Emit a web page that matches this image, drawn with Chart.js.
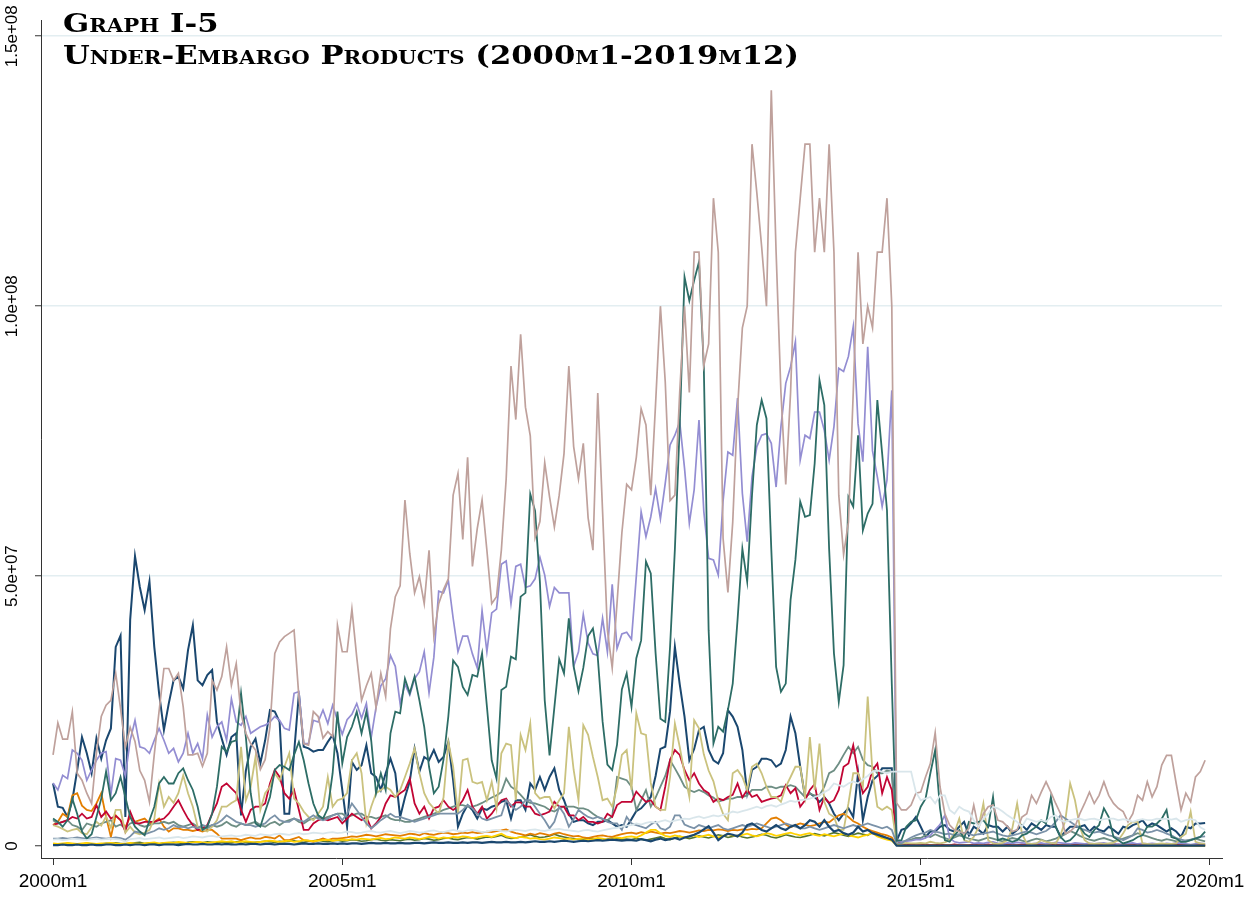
<!DOCTYPE html>
<html>
<head>
<meta charset="utf-8">
<script src="https://cdn.jsdelivr.net/npm/chart.js@4.4.0/dist/chart.umd.min.js"></script>
<style>
  html, body { margin: 0; padding: 0; background: #fff; }
  #wrap { position: relative; width: 1254px; height: 921px; }
  #title {
    position: absolute; left: 63px; top: 7px;
    font-family: "DejaVu Serif", serif; font-weight: bold; font-variant: small-caps;
    font-size: 26px; line-height: 32px; color: #000; white-space: nowrap;
    transform: scaleX(1.18); transform-origin: 0 0;
  }
</style>
</head>
<body>
<div id="wrap">
  <canvas id="chart" width="1254" height="921"></canvas>
  <div id="title">Graph I-5<br>Under-Embargo Products (2000m1-2019m12)</div>
</div>
<script>
// monthly values, millions, 2000m1 .. 2019m12 (one row per year)
const erose = [
  16.9,22.8,19.8,19.8,24.9,13.5,12.2,9.8,7.9,17.2,24.0,26.1,
  27.0,32.0,25.5,18.3,22.0,19.4,14.0,12.2,8.2,17.0,25.0,32.9,
  32.9,30.7,32.0,25.8,16.9,16.9,17.2,14.8,17.2,30.7,28.9,31.4,
  36.9,29.8,33.8,24.5,20.9,19.0,17.8,14.2,16.0,22.1,35.7,37.8,
  38.8,39.4,40.0,27.6,19.0,18.7,24.9,24.0,20.0,21.2,20.3,40.9,
  36.0,36.0,43.9,35.0,27.0,29.7,32.0,25.7,32.0,27.7,40.3,46.2,
  48.2,64.1,54.2,46.9,49.9,44.9,54.8,38.9,44.9,47.5,49.5,65.0,
  69.0,56.8,72.0,51.8,58.8,64.1,54.8,44.9,46.2,54.8,68.0,88.9,
  79.0,94.8,81.3,76.0,57.1,60.1,71.0,64.7,59.1,65.0,72.7,88.9,
  74.0,68.0,74.6,60.8,54.8,83.9,62.0,40.0,33.0,45.0,58.0,67.0,
  66.0,72.0,81.0,78.0,65.0,82.0,100,86.0,64.0,65.0,84.0,100,
  84.0,110,110,89.0,93.0,120,110,57.0,47.0,60.0,81.0,96.0,
  100,130,121,111,100,140,110,84.0,67.0,84.0,110,120,
  130,130,110,120,110,130,110,65.0,54.0,60.0,84.0,110,
  93.0,100,96.0,110,110,120,100,8.0,6.7,6.7,7.6,9.8,
  10.0,12.8,15.3,21.0,11.0,6.0,3.9,3.0,2.7,2.3,3.3,7.6,
  3.3,6.0,7.3,7.6,4.8,4.5,3.6,2.7,3.0,5.4,6.0,9.4,
  7.9,10.0,11.9,10.0,7.9,6.0,2.3,2.7,3.6,6.0,7.9,10.0,
  7.9,9.4,11.9,9.4,7.9,7.0,6.4,4.5,6.0,9.4,8.5,11.9,
  9.1,11.0,15.0,16.8,16.8,11.6,6.7,9.8,8.2,12.8,13.8,15.9
];
const lavender = [
  11.7,10.4,13.1,12.5,17.8,17.2,15.9,12.2,14.1,15.9,17.2,17.5,
  9.6,16.2,15.9,13.0,19.6,23.3,18.4,18.1,17.2,19.6,21.8,19.6,
  17.2,18.1,15.6,17.2,20.9,17.2,19.0,16.2,24.3,20.2,22.1,23.0,
  19.6,27.3,23.0,22.4,24.0,20.9,21.5,22.1,22.4,23.0,24.0,23.3,
  21.8,21.5,28.3,28.6,19.0,19.0,23.3,23.0,25.2,22.7,26.1,23.3,
  20.7,23.4,24.4,26.4,23.7,26.4,20.1,25.7,29.7,31.0,35.3,33.3,
  26.4,30.0,28.0,31.0,32.3,36.0,28.4,35.0,47.2,46.9,49.2,42.2,
  36.0,38.9,38.9,35.6,33.0,43.6,36.0,43.2,43.9,52.2,52.8,44.9,
  51.8,52.2,47.9,48.2,49.5,53.5,50.2,44.4,47.9,46.9,46.9,46.9,
  33.3,36.0,42.9,37.6,35.6,35.3,42.2,36.0,48.5,36.6,39.3,39.6,
  38.3,50.0,61.9,57.3,61.0,66.2,60.6,67.2,74.3,76.1,78.6,70.0,
  59.8,66.0,78.9,62.0,53.3,53.0,50.2,64.0,73.0,72.4,83.0,65.3,
  56.4,68.4,74.0,76.1,76.4,74.6,66.5,77.7,85.7,88.8,93.4,71.5,
  76.1,75.5,80.4,80.4,77.0,71.5,77.7,88.5,87.9,90.7,96.2,78.2,
  71.2,92.5,73.2,68.4,62.9,67.8,84.4,1.0,0.8,0.9,1.0,1.2,
  1.2,1.5,2.0,3.0,4.0,5.7,1.5,0.8,0.6,0.7,0.8,0.5,
  0.6,0.5,0.7,0.8,0.5,0.4,0.6,0.5,0.7,0.6,0.5,0.4,
  0.5,0.6,0.4,0.5,0.7,0.6,0.5,0.4,0.6,0.5,0.4,0.5,
  0.4,0.5,0.6,0.4,0.5,0.3,0.4,0.5,0.6,0.4,0.5,0.4,
  0.5,0.4,0.3,0.5,0.4,0.6,0.5,0.4,0.3,0.4,0.5,0.4
];
const emerald = [
  5.1,4.5,3.6,4.8,8.8,6.0,2.7,1.4,2.2,5.4,8.8,13.8,
  8.5,9.8,12.8,9.1,5.4,3.6,2.7,2.0,4.8,7.3,11.6,12.8,
  11.6,11.6,13.5,14.4,12.2,10.4,7.3,3.0,3.6,6.0,11.0,18.4,
  17.5,19.3,19.6,28.3,20.2,9.8,4.2,3.6,6.4,9.1,14.1,15.0,
  14.7,14.1,16.9,19.3,15.9,11.6,7.9,5.7,5.1,7.0,13.5,24.9,
  15.3,20.2,22.1,24.9,20.9,24.9,19.6,9.8,13.5,10.4,20.9,24.9,
  24.6,31.0,28.3,31.4,27.0,22.1,14.7,9.8,11.0,16.0,24.0,34.4,
  33.2,29.5,28.0,31.7,31.4,35.7,25.9,15.9,12.5,28.9,29.5,35.1,
  34.6,46.2,46.9,65.2,62.1,48.9,27.0,16.8,25.7,34.6,32.0,42.2,
  33.3,28.7,33.0,38.9,40.3,35.0,23.1,15.1,14.1,18.8,29.0,32.0,
  25.8,34.8,38.1,52.7,50.5,35.7,23.6,23.0,36.9,55.0,77.7,105.4,
  101,104.8,108.2,88.8,40.0,19.0,22.1,21.2,25.2,30.1,41.9,55.1,
  49.0,65.0,78.0,82.6,79.2,55.0,33.2,28.6,30.1,45.6,53.0,63.8,
  61.0,61.3,70.9,86.3,81.7,55.0,35.7,26.7,33.5,64.7,62.9,76.1,
  58.5,61.6,63.4,82.6,72.7,62.2,30.0,1.0,1.1,3.6,4.5,4.8,
  7.3,8.8,13.5,17.8,7.0,1.1,0.8,2.0,3.0,1.4,4.5,4.2,
  4.5,4.8,3.6,9.1,1.1,1.4,1.1,0.8,1.1,2.0,2.3,3.0,
  3.6,4.8,4.2,9.1,3.6,1.7,0.8,1.1,2.0,3.6,2.3,1.7,
  3.0,3.9,7.0,5.4,1.7,1.1,0.5,0.8,1.1,1.7,2.0,3.6,
  3.6,4.2,5.1,6.7,1.7,1.4,0.8,0.8,1.1,1.4,1.7,2.7
];
const navy = [
  11.6,7.3,7.1,5.4,8.5,14.0,20.2,17.2,13.5,20.0,16.2,19.6,
  21.8,36.9,39.0,5.4,41.9,53.7,48.0,43.7,49.0,36.9,28.3,21.5,
  26.4,30.7,31.4,29.2,36.3,40.9,30.7,29.8,31.7,32.6,23.0,19.9,
  16.9,20.2,20.9,5.7,14.0,18.4,19.9,15.3,19.6,25.2,24.9,23.0,
  6.0,6.0,17.2,28.3,18.4,18.1,17.5,17.8,17.8,19.3,20.6,17.2,
  10.4,3.6,15.6,14.1,15.0,18.7,13.5,12.8,10.4,13.5,16.2,13.5,
  5.4,9.0,12.0,18.1,13.8,16.5,15.9,17.8,15.6,16.5,19.3,12.2,
  3.6,6.0,7.6,6.7,5.1,7.0,6.7,7.3,7.6,8.2,8.5,5.1,
  8.5,8.5,6.7,11.6,10.4,12.8,10.4,12.8,14.4,10.4,8.5,6.0,
  4.5,4.8,4.8,4.2,3.9,4.5,4.5,4.8,4.2,3.6,3.9,3.6,
  5.0,6.5,7.0,8.0,9.1,13.0,18.0,18.4,25.0,36.9,30.0,24.0,
  15.9,18.0,21.5,22.1,17.8,15.9,15.3,17.2,25.2,24.0,22.1,17.8,
  9.8,14.1,14.7,16.2,16.2,15.9,14.7,15.3,17.8,24.0,20.9,14.7,
  9.1,9.8,9.1,8.2,9.1,7.9,6.0,4.8,6.0,7.0,5.4,13.5,
  4.8,9.1,12.2,13.0,14.4,14.4,14.4,1.0,3.0,3.3,4.2,5.4,
  3.6,1.7,2.7,2.7,3.6,3.9,3.0,2.7,3.6,4.5,2.0,3.6,
  3.0,2.3,3.9,3.6,3.6,2.7,3.6,2.3,3.0,3.9,3.0,4.2,
  3.6,3.0,3.9,3.6,3.6,1.7,2.7,3.6,3.6,3.6,3.9,2.7,
  3.6,3.0,2.7,3.6,3.0,2.3,3.6,3.3,3.9,4.2,4.8,3.6,
  4.2,3.9,3.3,2.7,3.3,2.7,1.7,3.6,3.3,4.2,4.2,4.3
];
const khaki = [
  3.9,3.6,3.2,2.7,3.0,3.2,2.4,2.2,3.5,4.5,3.8,5.5,
  3.4,6.7,6.7,2.5,3.6,2.5,2.2,2.5,3.0,5.0,11.6,7.3,
  9.1,8.0,9.8,13.1,9.8,7.3,3.6,3.0,2.7,3.6,4.8,7.3,
  7.3,8.0,8.5,18.4,8.5,11.0,16.5,6.7,9.8,11.0,13.5,12.2,
  14.7,17.2,8.8,7.9,6.4,5.4,4.8,6.0,7.3,12.8,7.3,8.5,
  8.8,9.8,15.9,17.2,13.5,4.2,7.3,9.8,10.4,11.0,10.4,9.1,
  10.4,12.8,15.3,18.1,13.5,9.8,8.0,7.0,6.0,9.0,19.3,14.7,
  6.0,15.9,16.2,11.9,11.6,11.9,8.5,11.9,7.0,17.2,19.0,18.7,
  8.5,20.6,17.8,22.7,9.8,8.8,9.1,9.1,7.0,8.5,9.8,22.1,
  14.1,8.5,22.4,20.6,16.5,12.8,8.5,8.8,7.3,11.0,16.9,17.8,
  10.4,24.6,20.9,20.6,11.7,7.3,6.7,6.7,12.8,22.7,18.4,13.5,
  9.1,23.3,21.8,17.0,14.0,12.0,8.4,6.0,4.8,13.5,14.1,12.8,
  10.4,14.7,15.3,13.5,11.0,9.1,9.1,8.2,11.0,12.8,14.7,14.7,
  9.1,20.2,10.4,19.0,8.2,6.0,5.4,3.0,3.0,7.9,13.5,13.5,
  11.0,27.7,13.5,7.3,6.7,7.3,6.7,0.5,0.4,0.6,0.5,0.5,
  0.6,0.5,0.8,0.6,0.5,0.7,1.1,2.5,5.1,1.1,0.8,1.7,
  3.5,7.9,1.1,0.5,0.4,0.6,1.1,3.3,7.9,2.3,0.5,0.4,
  0.5,1.1,0.8,0.6,0.5,2.0,4.8,11.6,8.5,3.6,1.1,0.5,
  0.4,0.5,0.4,0.5,0.6,1.1,2.4,3.9,4.5,4.5,0.5,0.4,
  0.3,0.4,0.5,0.4,0.4,0.5,1.7,2.3,6.4,0.8,0.5,0.4
];
const cranberry = [
  3.9,4.2,4.5,4.8,5.4,5.1,6.0,5.1,5.4,7.6,5.4,6.4,
  5.1,5.6,4.8,2.7,6.4,4.2,4.2,4.5,4.5,4.5,4.8,5.1,
  6.0,7.3,8.5,6.7,5.1,3.9,3.0,3.3,3.9,6.0,7.9,11.0,
  11.6,10.7,9.8,6.7,4.5,6.7,7.3,7.3,7.9,11.6,14.1,12.8,
  9.8,8.8,10.4,6.7,3.0,3.0,4.2,4.8,5.1,4.8,5.1,5.4,
  4.2,5.1,6.0,5.4,4.8,5.4,3.3,4.2,5.4,7.9,9.4,9.1,
  9.8,10.4,12.5,7.9,6.0,7.3,5.1,7.0,7.3,8.5,7.3,6.7,
  7.3,8.5,10.4,7.3,6.0,7.3,5.1,6.0,7.3,8.5,8.8,7.3,
  8.1,8.1,7.3,7.3,6.0,5.7,6.0,6.4,8.2,7.3,7.3,5.7,
  5.7,4.8,5.4,4.5,4.5,4.2,4.5,6.0,5.4,7.6,8.2,8.2,
  8.2,10.1,9.1,8.2,8.5,7.3,6.7,11.0,16.0,17.8,16.9,14.1,
  12.2,13.5,11.6,10.4,9.8,8.2,8.8,8.5,9.1,9.5,11.6,9.0,
  10.4,9.1,9.5,8.2,8.5,8.8,9.0,9.4,11.3,9.8,10.7,7.3,
  8.5,10.4,11.5,6.7,9.0,8.0,8.5,10.4,14.7,15.3,18.7,13.5,
  9.8,11.0,14.1,15.3,9.8,12.8,10.4,1.1,0.3,0.2,0.3,0.2,
  0.2,0.3,0.2,0.2,0.3,0.2,0.2,0.3,0.2,0.2,0.2,0.3,
  0.2,0.2,0.3,0.2,0.2,0.2,0.3,0.2,0.2,0.3,0.2,0.2,
  0.3,0.2,0.2,0.2,0.3,0.2,0.2,0.2,0.3,0.2,0.2,0.2,
  0.2,0.3,0.2,0.2,0.2,0.3,0.2,0.2,0.2,0.3,0.2,0.2,
  0.2,0.2,0.3,0.2,0.2,0.2,0.3,0.2,0.2,0.2,0.3,0.2
];
const teal = [
  4.8,4.2,4.5,4.8,3.9,3.6,3.0,4.2,3.9,3.6,4.2,4.5,
  4.8,3.6,4.0,3.3,4.2,4.5,3.9,3.6,3.9,4.2,4.2,4.5,
  4.2,4.5,3.9,3.6,3.9,4.2,3.6,3.3,3.3,3.9,3.6,3.9,
  4.5,3.9,3.6,4.2,3.9,4.2,4.5,3.9,3.6,4.2,4.5,3.9,
  4.5,4.8,5.1,4.5,4.2,4.8,5.1,5.4,5.1,5.4,5.7,6.0,
  6.0,5.4,5.7,6.0,6.0,5.4,5.4,5.1,5.4,5.7,5.1,4.8,
  4.8,4.5,4.5,4.8,5.1,5.4,5.7,6.0,6.3,6.7,7.0,7.3,
  7.6,7.6,7.3,7.3,7.6,8.0,8.5,9.0,9.4,10.0,12.5,11.0,
  10.4,9.5,8.5,8.0,7.9,7.6,7.3,6.7,6.4,7.0,7.3,7.3,
  7.3,7.0,7.0,6.7,6.0,5.4,5.0,4.8,5.5,12.8,12.5,12.2,
  11.0,6.7,8.5,10.4,7.3,9.0,11.0,13.0,15.9,14.4,12.8,11.0,
  10.4,10.0,10.4,10.0,9.4,9.0,8.2,8.5,8.8,8.8,9.1,9.1,
  9.4,10.4,10.4,10.4,11.0,11.0,10.7,11.0,11.0,11.3,11.0,10.0,
  9.1,9.7,9.4,9.4,11.0,13.5,14.0,15.3,16.9,18.4,17.2,18.4,
  16.0,15.0,14.7,13.5,13.5,14.0,13.8,1.0,0.8,1.0,1.2,1.5,
  1.5,2.0,1.7,2.2,1.8,1.5,1.2,1.6,2.0,1.7,1.4,1.2,
  1.0,1.3,1.6,1.4,1.1,0.9,1.2,1.5,1.3,1.0,0.8,1.1,
  1.4,1.2,0.9,1.1,1.4,1.8,2.2,2.8,2.4,1.9,1.5,1.2,
  1.0,1.3,1.5,1.2,0.9,1.1,1.4,1.7,2.0,2.4,2.1,1.8,
  1.5,1.2,1.0,1.3,1.1,0.9,0.8,1.0,1.2,1.4,1.1,0.9
];
const emidblue = [
  1.4,1.4,1.5,1.4,1.5,1.6,1.5,1.4,1.5,1.6,1.5,1.4,
  1.5,1.6,1.5,1.2,1.8,2.7,2.5,2.2,2.5,2.8,3.3,3.0,
  3.3,3.9,3.5,3.6,3.3,3.6,3.3,3.9,3.6,3.9,4.2,4.8,
  5.7,5.1,4.5,4.2,3.9,3.9,3.6,3.9,4.2,5.1,5.7,4.8,
  4.5,4.5,5.1,4.8,4.5,5.1,5.7,5.1,4.8,5.1,5.7,6.0,
  4.8,6.0,7.9,6.7,5.4,4.2,3.3,4.0,4.8,5.4,6.0,5.4,
  5.4,5.1,4.8,4.5,4.8,5.1,5.4,5.7,6.0,6.0,6.0,6.0,
  6.0,6.7,7.6,7.0,6.0,5.1,4.8,5.1,5.4,5.7,8.5,7.6,
  6.7,7.3,8.5,8.5,7.3,6.0,4.8,3.3,4.5,7.3,6.0,3.6,
  5.0,6.7,6.0,5.4,5.1,5.4,5.1,4.5,4.2,4.2,3.0,5.4,
  4.2,3.9,3.6,3.3,4.0,4.5,3.3,3.0,3.6,5.7,5.7,4.0,
  3.6,3.3,3.9,3.6,3.3,3.6,3.9,3.3,3.0,3.3,3.6,3.9,
  3.6,3.9,4.2,3.9,3.6,3.3,3.6,3.9,4.2,3.9,3.6,3.3,
  3.3,3.6,3.3,3.0,3.3,3.6,3.9,3.6,3.3,3.6,3.9,3.6,
  3.9,4.2,3.9,3.6,3.3,3.6,3.0,0.5,0.5,1.1,1.6,2.0,
  2.3,2.5,3.0,2.7,2.5,2.2,2.3,2.0,2.2,2.5,2.2,2.0,
  2.2,2.3,2.5,2.7,2.3,2.0,1.8,2.0,2.2,2.5,2.7,2.5,
  2.2,2.5,2.8,3.5,4.5,5.7,5.1,4.5,3.9,3.3,3.0,2.7,
  2.5,2.7,2.3,2.0,1.8,1.5,1.1,1.5,2.0,3.3,3.0,2.5,
  2.7,3.0,2.7,2.3,2.0,1.5,1.2,1.0,1.1,1.5,1.7,1.8
];
const bluishgray = [
  1.2,1.3,1.1,1.2,1.4,1.3,1.2,1.1,1.3,1.4,1.2,1.3,
  1.4,1.3,1.2,0.8,1.3,1.4,1.5,1.3,1.4,1.5,1.6,1.4,
  1.5,1.6,1.7,1.5,1.6,1.8,1.7,1.6,1.8,1.9,1.7,1.8,
  1.9,2.0,1.8,1.9,2.1,2.0,1.9,2.2,2.1,2.0,2.2,2.3,
  2.2,2.1,2.3,2.4,2.2,2.3,2.5,2.4,2.3,2.5,2.6,2.4,
  2.5,2.7,2.6,2.4,2.5,2.7,2.8,2.6,2.5,2.7,2.8,2.6,
  2.4,2.6,2.8,2.7,2.5,2.6,2.8,2.9,2.7,2.6,2.8,3.0,
  2.8,2.7,2.9,3.0,2.8,2.6,2.7,2.9,3.0,2.8,2.7,2.9,
  3.0,2.9,2.8,3.0,3.1,2.9,2.8,3.0,3.1,3.2,3.0,2.9,
  2.8,2.7,2.9,3.0,2.8,2.7,2.9,3.1,3.3,3.4,3.6,3.8,
  3.9,4.2,4.0,4.3,4.5,4.3,4.6,4.8,4.5,4.7,4.9,5.1,
  5.0,5.3,5.5,5.2,5.4,5.7,5.5,5.8,6.0,6.4,6.2,6.5,
  6.7,7.0,7.3,7.0,7.4,7.6,7.3,7.7,8.0,8.4,8.2,8.5,
  8.6,8.8,9.1,9.4,10.0,10.5,11.6,11.3,11.0,11.6,12.0,11.6,
  12.4,13.0,13.8,14.0,13.8,13.5,13.8,13.8,13.8,13.8,13.8,10.0,
  8.5,8.8,9.1,7.9,9.4,9.4,6.7,6.0,7.3,6.7,6.4,4.8,
  3.6,5.1,6.0,7.3,7.0,6.4,5.7,5.1,4.5,3.6,5.1,4.8,
  4.5,4.8,4.5,5.4,5.7,4.8,4.5,4.8,5.0,5.1,4.8,5.0,
  5.1,4.8,5.0,5.1,5.1,4.8,5.0,4.8,4.5,4.8,5.0,4.8,
  4.8,5.1,5.0,5.1,4.9,5.1,4.5,4.8,5.0,4.8,3.5,3.0
];
const dkorange = [
  3.9,4.5,6.0,5.4,9.4,9.8,7.5,6.7,6.5,7.9,9.8,5.4,
  1.7,5.7,4.8,3.5,5.4,4.5,4.8,5.1,4.2,4.5,5.1,3.6,
  2.7,3.3,3.3,3.0,3.0,2.8,3.0,2.7,3.0,3.0,2.3,1.4,
  1.4,1.4,1.4,1.1,1.4,1.6,1.4,1.4,1.7,1.6,1.4,2.0,
  1.1,1.1,1.4,1.7,1.1,1.0,0.8,1.1,1.4,1.1,1.4,1.4,
  1.5,1.6,1.8,1.7,1.9,2.1,2.0,1.8,2.0,2.2,2.1,2.0,
  1.9,2.1,2.3,2.2,2.0,2.4,2.2,2.1,2.3,2.5,2.4,2.2,
  2.3,2.5,2.4,2.6,2.4,2.5,2.7,2.6,2.8,2.9,3.1,2.7,
  2.4,2.2,2.0,2.3,2.1,2.4,2.2,2.0,2.3,2.5,2.2,2.0,
  1.8,1.9,1.6,1.5,1.7,1.9,2.0,1.8,1.7,2.0,2.2,2.4,
  2.5,2.3,2.6,2.4,2.7,2.5,2.3,2.5,2.4,2.6,2.8,2.7,
  2.5,2.7,2.9,2.8,3.0,2.9,3.1,3.0,2.8,3.0,2.9,3.1,
  3.0,3.2,3.1,3.3,4.2,5.1,5.3,4.8,4.0,3.5,3.9,4.2,
  4.0,3.7,3.9,4.2,4.5,4.4,5.1,5.7,6.0,5.4,4.6,4.2,
  3.6,3.1,2.8,2.5,2.2,2.0,1.6,0.2,0.1,0.1,0.2,0.1,
  0.1,0.1,0.2,0.1,0.1,0.1,0.1,0.2,0.1,0.1,0.1,0.1,
  0.1,0.2,0.1,0.1,0.1,0.1,0.2,0.1,0.1,0.1,0.1,0.1,
  0.1,0.1,0.1,0.2,0.1,0.1,0.1,0.1,0.1,0.2,0.1,0.1,
  0.1,0.1,0.1,0.1,0.2,0.1,0.1,0.1,0.1,0.1,0.1,0.2,
  0.1,0.1,0.2,0.1,0.1,0.1,0.1,0.1,0.2,0.1,0.1,0.1
];
const gold = [
  0.5,0.4,0.5,0.6,0.5,0.4,0.5,0.6,0.5,0.4,0.5,0.5,
  0.6,0.5,0.4,0.5,0.6,0.5,0.4,0.5,0.6,0.7,0.5,0.6,
  0.7,0.6,0.8,0.7,0.6,0.7,0.8,0.7,0.6,0.7,0.8,0.9,
  0.8,0.9,0.7,0.8,0.9,0.8,0.7,0.8,0.9,1.0,0.9,0.8,
  0.9,1.0,0.8,0.9,1.1,1.0,0.9,1.0,1.1,1.2,1.0,1.1,
  1.2,1.1,1.3,1.2,1.4,1.3,1.2,1.4,1.5,1.3,1.4,1.6,
  1.5,1.4,1.6,1.5,1.3,1.5,1.7,1.6,1.4,1.6,1.5,1.7,
  1.6,1.8,1.7,1.5,1.6,1.8,1.9,1.7,2.0,2.3,1.8,1.6,
  1.5,1.7,1.6,1.4,1.5,1.3,1.2,1.4,1.6,1.5,1.3,1.4,
  1.2,1.4,1.3,1.1,1.3,1.5,1.4,1.2,1.4,1.6,1.5,1.7,
  1.8,1.6,2.0,2.5,3.0,3.0,2.4,1.9,1.7,2.0,1.8,1.6,
  1.8,2.0,1.7,1.9,2.1,1.8,1.6,1.9,2.2,2.0,1.8,2.1,
  2.3,2.0,1.8,2.1,2.4,2.2,1.9,2.1,2.3,2.5,2.2,2.0,
  2.2,2.4,2.1,1.9,2.2,2.0,1.8,2.1,2.3,2.0,1.8,1.6,
  1.9,2.1,2.4,1.8,1.5,1.2,1.0,0.2,0.1,0.1,0.1,0.1,
  0.1,0.1,0.1,0.1,0.1,0.1,0.1,0.1,0.1,0.1,0.1,0.1,
  0.1,0.1,0.1,0.1,0.1,0.1,0.1,0.1,0.1,0.1,0.1,0.1,
  0.1,0.1,0.1,0.1,0.1,0.1,0.1,0.1,0.1,0.1,0.1,0.1,
  0.1,0.1,0.1,0.1,0.1,0.1,0.1,0.1,0.1,0.1,0.1,0.1,
  0.1,0.1,0.1,0.1,0.1,0.1,0.1,0.1,0.1,0.1,0.1,0.1
];
const forestGreen = [
  0.3,0.4,0.3,0.5,0.4,0.3,0.4,0.5,0.4,0.3,0.4,0.5,
  0.5,0.6,0.5,0.4,0.5,0.6,0.7,0.5,0.6,0.5,0.4,0.6,
  0.6,0.7,0.6,0.5,0.7,0.8,0.7,0.6,0.8,0.7,0.6,0.7,
  0.7,0.6,0.8,0.9,0.7,0.6,0.7,0.8,0.9,0.8,0.7,0.9,
  0.8,0.9,1.0,0.8,0.7,0.9,1.0,1.1,0.9,0.8,1.0,1.1,
  0.9,1.0,1.2,1.1,0.9,1.0,1.2,1.3,1.1,1.0,1.2,1.1,
  1.0,1.2,1.3,1.1,1.2,1.4,1.3,1.1,1.2,1.4,1.5,1.3,
  1.2,1.4,1.6,1.5,1.3,1.5,1.7,1.6,1.8,2.0,1.6,1.4,
  1.5,1.7,1.9,2.1,1.8,1.6,1.7,1.9,2.2,1.9,1.7,1.5,
  1.4,1.2,1.3,1.5,1.4,1.2,1.1,1.3,1.5,1.4,1.2,1.3,
  1.2,1.4,1.3,1.1,1.3,1.5,1.7,1.4,1.2,1.5,1.8,1.6,
  1.4,1.6,1.9,1.7,1.5,1.8,2.1,1.9,1.6,1.8,2.0,1.7,
  1.5,1.7,1.9,2.2,2.0,1.7,1.5,1.8,2.1,1.9,1.7,1.6,
  1.8,2.0,2.3,2.1,1.9,2.2,2.5,2.3,2.0,1.8,2.1,2.4,
  2.2,2.0,2.6,2.3,1.9,1.5,1.2,0.2,0.1,0.1,0.1,0.1,
  0.1,0.1,0.1,0.1,0.1,0.1,0.1,0.1,0.1,0.1,0.1,0.1,
  0.1,0.1,0.1,0.1,0.1,0.1,0.1,0.1,0.1,0.1,0.1,0.1,
  0.1,0.1,0.1,0.1,0.1,0.1,0.1,0.1,0.1,0.1,0.1,0.1,
  0.1,0.1,0.1,0.1,0.1,0.1,0.1,0.1,0.1,0.1,0.1,0.1,
  0.1,0.1,0.1,0.1,0.1,0.1,0.1,0.1,0.1,0.1,0.1,0.1
];
const navy2 = [
  0.2,0.2,0.3,0.2,0.2,0.3,0.2,0.2,0.3,0.2,0.2,0.3,
  0.3,0.2,0.2,0.3,0.2,0.3,0.3,0.2,0.3,0.3,0.2,0.3,
  0.3,0.3,0.2,0.3,0.4,0.3,0.3,0.4,0.3,0.3,0.4,0.3,
  0.4,0.3,0.3,0.4,0.3,0.4,0.4,0.3,0.4,0.4,0.3,0.4,
  0.4,0.4,0.3,0.4,0.5,0.4,0.4,0.5,0.4,0.4,0.5,0.4,
  0.5,0.4,0.5,0.5,0.4,0.5,0.6,0.5,0.5,0.6,0.5,0.5,
  0.6,0.5,0.5,0.6,0.6,0.5,0.6,0.7,0.6,0.6,0.7,0.6,
  0.6,0.7,0.6,0.7,0.7,0.6,0.7,0.8,0.7,0.7,0.8,0.7,
  0.7,0.8,0.7,0.8,0.9,0.8,0.8,0.9,0.8,0.9,1.0,0.9,
  0.8,0.9,1.0,0.9,1.0,1.1,1.0,1.1,1.2,1.1,1.0,1.1,
  1.1,1.0,1.3,1.1,0.9,1.2,1.4,1.1,1.3,1.5,1.2,1.6,
  1.8,2.1,2.5,3.1,3.7,2.5,1.1,1.8,2.3,2.1,1.8,2.5,
  3.9,4.2,3.6,3.0,2.7,3.3,3.9,3.3,3.0,3.6,3.9,3.3,
  3.9,4.8,4.5,3.6,4.8,3.6,2.7,3.0,2.4,2.1,2.5,3.6,
  2.7,3.0,2.4,2.1,1.8,1.5,1.2,0.1,0.1,0.1,0.1,0.1,
  0.1,0.1,0.1,0.1,0.1,0.1,0.1,0.1,0.1,0.1,0.1,0.1,
  0.1,0.1,0.1,0.1,0.1,0.1,0.1,0.1,0.1,0.1,0.1,0.1,
  0.1,0.1,0.1,0.1,0.1,0.1,0.1,0.1,0.1,0.1,0.1,0.1,
  0.1,0.1,0.1,0.1,0.1,0.1,0.1,0.1,0.1,0.1,0.1,0.1,
  0.1,0.1,0.1,0.1,0.1,0.1,0.1,0.1,0.1,0.1,0.1,0.1
];

const xTickPos = [0, 60, 120, 180, 240];
const xTickLabels = ['2000m1', '2005m1', '2010m1', '2015m1', '2020m1'];
const yTickPos = [0, 50, 100, 150];            // millions
const yTickLabels = ['0', '5.0e+07', '1.0e+08', '1.5e+08'];

// plotting order as in the source graph (later = drawn on top)
const seriesList = [
    { data: navy,        color: '#1a476f', width: 2.0 },
    { data: forestGreen, color: '#55752f', width: 1.6 },
    { data: dkorange,    color: '#e37e00', width: 1.8 },
    { data: teal,        color: '#6e8e84', width: 1.8 },
    { data: cranberry,   color: '#c10534', width: 1.8 },
    { data: lavender,    color: '#938dd2', width: 1.7 },
    { data: khaki,       color: '#cac27e', width: 1.8 },
    { data: emidblue,    color: '#7b92a8', width: 1.8 },
    { data: emerald,     color: '#2d6d66', width: 1.8 },
    { data: erose,       color: '#bfa19c', width: 1.7 },
    { data: gold,        color: '#ffd200', width: 1.8 },
    { data: bluishgray,  color: '#d9e6eb', width: 1.8 },
    { data: navy2,       color: '#1a476f', width: 2.2 }
];

const datasets = seriesList.map(function (s, k) {
    return {
        data: s.data.map((v, i) => ({ x: i, y: v })),
        borderColor: s.color,
        borderWidth: s.width,
        pointRadius: 0,
        fill: false,
        tension: 0,
        order: seriesList.length - k
    };
});

const ctx = document.getElementById('chart').getContext('2d');
new Chart(ctx, {
    type: 'line',
    data: { datasets: datasets },
    options: {
        responsive: false,
        animation: false,
        events: [],
        layout: { padding: { top: 20, right: 32, left: 0, bottom: 0 } },
        plugins: { legend: { display: false }, tooltip: { enabled: false }, title: { display: false } },
        scales: {
            x: {
                type: 'linear',
                min: -2.5,
                max: 242.5,
                afterBuildTicks: function (scale) { scale.ticks = xTickPos.map(v => ({ value: v })); },
                afterFit: function (scale) { scale.height = 63; },
                ticks: {
                    callback: function (v) { return xTickLabels[xTickPos.indexOf(v)]; },
                    font: { family: 'Liberation Sans, Arial, sans-serif', size: 19 },
                    color: '#000',
                    padding: 5,
                    maxRotation: 0
                },
                grid: { drawOnChartArea: false, tickLength: 7, tickColor: '#333', tickWidth: 1 },
                border: { color: '#333', width: 1 }
            },
            y: {
                type: 'linear',
                min: -2.2,
                max: 153,
                afterBuildTicks: function (scale) { scale.ticks = yTickPos.map(v => ({ value: v })); },
                afterFit: function (scale) { scale.width = 41; },
                ticks: {
                    callback: function (v) { return yTickLabels[yTickPos.indexOf(v)]; },
                    font: { family: 'Liberation Sans, Arial, sans-serif', size: 17 },
                    color: '#000',
                    minRotation: 90,
                    maxRotation: 90,
                    crossAlign: 'center',
                    padding: -8
                },
                grid: {
                    color: function (c) { return c.tick && c.tick.value === 0 ? 'rgba(0,0,0,0)' : '#e3eef1'; },
                    lineWidth: 1.5,
                    tickLength: 6,
                    tickColor: '#333',
                    tickWidth: 1
                },
                border: { color: '#333', width: 1 }
            }
        }
    }
});
</script>
</body>
</html>
